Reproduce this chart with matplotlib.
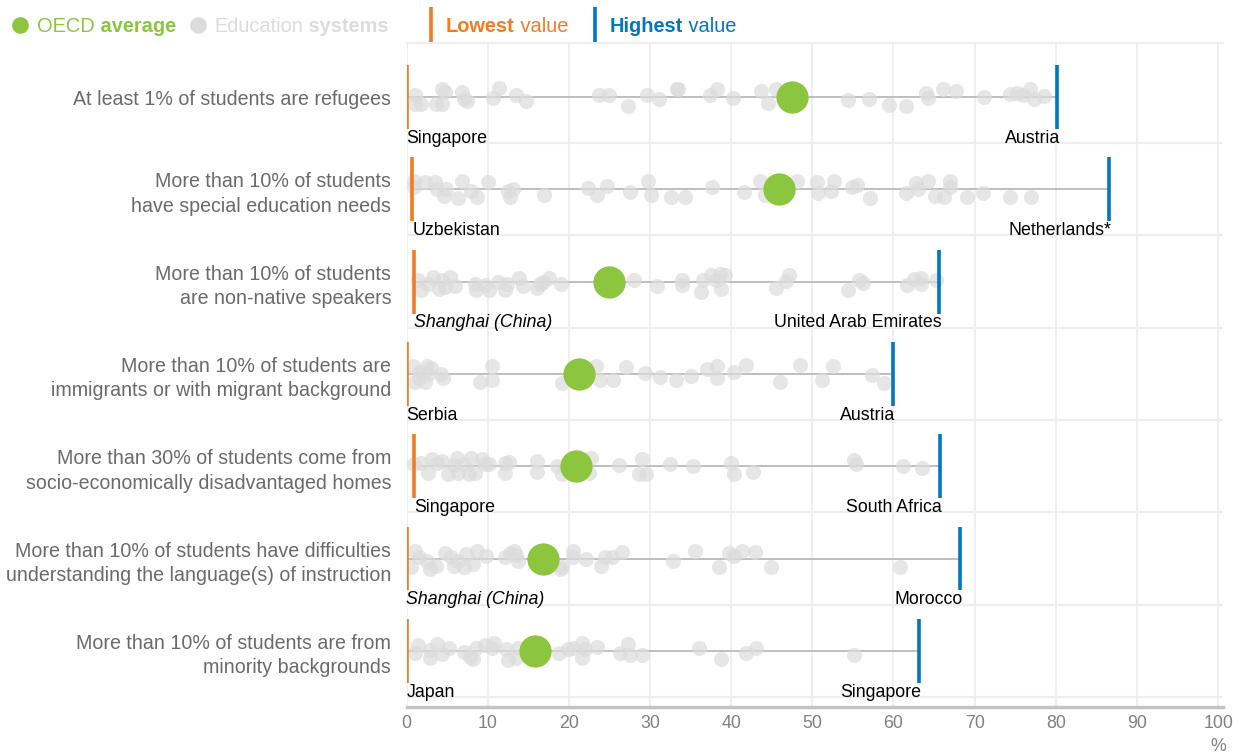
import numpy as np
import matplotlib
matplotlib.use('Agg')
import matplotlib.pyplot as plt
from matplotlib import font_manager

# ---- data ----
categories = [
    'At least 1% of students are refugees',
    'More than 10% of students\nhave special education needs',
    'More than 10% of students\nare non-native speakers',
    'More than 10% of students are\nimmigrants or with migrant background',
    'More than 30% of students come from\nsocio-economically disadvantaged homes',
    'More than 10% of students have difficulties\nunderstanding the language(s) of instruction',
    'More than 10% of students are from\nminority backgrounds',
]
oecd_avg = [47.5, 45.9, 25.0, 21.3, 20.9, 16.8, 15.8]
lowest_val = [0.0, 0.7, 0.9, 0.0, 0.9, 0.0, 0.0]
lowest_name = ['Singapore', 'Uzbekistan', 'Shanghai (China)', 'Serbia',
               'Singapore', 'Shanghai (China)', 'Japan']
highest_val = [80.2, 86.5, 65.6, 59.9, 65.7, 68.2, 63.1]
highest_name = ['Austria', 'Netherlands*', 'United Arab Emirates', 'Austria',
                'South Africa', 'Morocco', 'Singapore']

# education systems (value, vertical jitter in px as drawn in the original)
refugees_x = [1.1, 1.0, 1.8, 4.4, 4.4, 3.6, 4.7, 6.8, 7.1, 7.5, 10.6, 11.4, 13.5, 14.7, 23.7, 25.0, 27.3,
              29.6, 31.1, 33.3, 33.5, 37.4, 38.2, 40.2, 43.7, 44.5, 45.5, 54.4, 57.0, 59.5, 61.6, 64.0,
              64.3, 66.1, 67.7, 71.2, 74.4, 75.2, 76.0, 76.8, 77.3, 78.5]
refugees_j = [-2, 7, 7, -8, 7, 7, -5, -5, 2, 4, 1, -9, -2, 4, -2, -2, 9, -2, 2, -8, -8, -2, -8, 1, -6, 6,
              -8, 3, 2, 8, 9, -4, 1, -8, -6, 0, -3, -4, -2, -8, 2, -1]
sen_x = [0.9, 0.9, 2.3, 3.5, 3.7, 4.9, 4.6, 6.3, 6.8, 8.0, 8.7, 10.0, 12.5, 12.8, 13.1, 16.9, 22.4, 23.5,
         24.7, 27.5, 29.8, 30.1, 32.6, 34.3, 37.6, 41.6, 43.6, 44.2, 48.1, 50.6, 50.7, 52.3, 52.7, 54.9,
         55.5, 57.1, 61.5, 62.8, 63.0, 64.3, 65.1, 66.2, 67.0, 67.0, 69.1, 71.0, 74.3, 76.9]
sen_j = [-2, -8, -7, -7, 0, 0, 7, 9, -8, 2, 8, -7, 2, 8, 0, 6, -1, 6, -3, 3, -8, 6, 8, 8, -2, 3, -8, 6,
         -8, -7, 4, 2, -8, -2, -4, 9, 4, -6, 0, -8, 7, 8, -8, -2, 8, 4, 8, 8]
nonnative_x = [1.4, 1.8, 2.7, 3.3, 4.0, 4.4, 5.3, 4.7, 6.0, 8.4, 8.6, 9.7, 10.2, 11.3, 12.1, 12.4, 13.9,
               14.3, 16.1, 16.5, 17.6, 16.8, 19.0, 28.0, 30.9, 33.9, 33.9, 36.3, 36.5, 37.5, 38.1, 38.6,
               38.7, 39.2, 45.5, 46.8, 47.1, 54.4, 55.7, 56.2, 61.7, 62.5, 63.4, 63.4, 65.2]
nonnative_j = [-2, 8, 2, -5, 7, -2, -5, 5, 4, 2, 8, 3, 8, 0, 8, 2, -4, 4, 6, 2, -4, 0, 2, -2, 4, -2, 3,
               10, -2, -7, -2, -8, 7, -7, 6, -1, -7, 8, -2, 1, 3, -3, -4, 2, -2]
immigrant_x = [0.8, 1.0, 1.7, 2.3, 2.5, 2.7, 4.3, 4.5, 9.1, 10.5, 10.5, 19.2, 23.3, 23.8, 25.4, 27.1,
               29.4, 31.2, 33.2, 35.1, 37.0, 38.2, 38.2, 40.3, 41.8, 46.0, 48.5, 51.2, 52.6, 57.3, 58.8,
               1.5, 3.0]
immigrant_j = [-8, 8, -2, 8, -8, 0, 0, 4, 8, -8, 6, 9, -8, 6, 6, -7, -1, 3, 6, 2, -5, -8, 4, -2, -9, 8,
               -9, 6, -8, 1, 9, 4, -6]
disadv_x = [0.9, 1.8, 2.7, 3.1, 3.8, 4.4, 5.1, 5.8, 6.2, 6.4, 7.1, 7.7, 8.0, 8.4, 9.3, 9.7, 10.2, 12.1,
            12.1, 12.6, 16.1, 16.1, 18.5, 19.2, 22.7, 22.5, 26.2, 29.0, 28.7, 29.5, 32.5, 35.3, 40.0,
            40.3, 42.7, 55.1, 55.4, 61.2, 63.5]
disadv_j = [-2, -3, 7, -7, -3, -5, 8, -1, -8, 7, -2, 8, -8, 7, -7, -2, -2, 7, -3, -4, -5, 6, 0, 8, -8,
            7, -1, -7, 8, 8, -2, 0, -3, 8, 6, -6, -2, 0, 2]
language_x = [0.5, 1.1, 1.6, 2.5, 2.9, 3.6, 4.8, 5.5, 5.9, 6.4, 7.1, 7.3, 8.2, 8.7, 9.8, 12.1, 12.8, 13.2,
              13.7, 13.5, 18.9, 19.2, 20.5, 20.5, 22.1, 24.0, 24.4, 25.3, 26.6, 32.8, 35.6, 38.5, 39.7,
              40.4, 41.3, 42.9, 44.9, 60.8]
language_j = [8, -8, -2, 2, 10, 7, -6, -2, 7, 2, 8, -5, 5, -8, -3, -2, -6, -8, 2, -4, 10, 8, -8, -2, 0,
              7, -2, -2, -7, 2, -8, 8, -6, -3, -8, -7, 8, 8]
minority_x = [1.0, 1.4, 2.9, 2.9, 3.7, 4.4, 5.2, 7.1, 7.8, 8.2, 8.6, 9.7, 10.5, 10.8, 12.2, 12.5, 13.7,
              13.5, 18.8, 19.9, 20.5, 21.6, 21.6, 22.0, 23.5, 26.3, 27.3, 27.5, 29.0, 36.1, 38.8, 41.8,
              43.1, 55.1]
minority_j = [2, -6, -1, 7, -7, 3, -3, 1, 6, 8, -3, -6, -3, -8, -2, 9, -3, 7, 2, -2, -3, -8, 7, -2, -4,
              2, -7, 4, 4, -3, 8, 2, -3, 4]

systems_x = [refugees_x, sen_x, nonnative_x, immigrant_x, disadv_x, language_x, minority_x]
systems_j = [refugees_j, sen_j, nonnative_j, immigrant_j, disadv_j, language_j, minority_j]

# ---- style ----
GREEN = '#8cc63f'
GREY_DOT = '#dcdcdc'
ORANGE = '#f47b20'
BLUE = '#0077c0'
GRID = '#eeeeee'

names = {f.name for f in font_manager.fontManager.ttflist}
if 'Liberation Sans Narrow' in names:
    FONT, k = 'Liberation Sans Narrow', 1.0
else:
    FONT, k = 'Liberation Sans', 0.85  # no narrow face: shrink to keep widths
plt.rcParams['font.family'] = [FONT, 'DejaVu Sans']

W, H = 1240, 754
fig = plt.figure(figsize=(W / 100, H / 100), dpi=100)
ax_l, ax_r, ax_t, ax_b = 406.5, 1223, 43, 707
ax = fig.add_axes([ax_l / W, 1 - ax_b / H, (ax_r - ax_l) / W, (ax_b - ax_t) / H])

row_px = 92.33  # pixel distance between rows
ax.set_xlim(0, 100.6)
ax.set_ylim(6.607, -0.585)

# grid
for v in range(0, 101, 10):
    ax.axvline(v, color=GRID, lw=1.3, zorder=0)
for i in range(7):
    ax.axhline(i + 0.5, color=GRID, lw=1.6, zorder=0)

for i in range(7):
    lo, hi = lowest_val[i], highest_val[i]
    ax.plot([lo, hi], [i, i], color='#b4b4b4', lw=1.2, zorder=1)
    ys = i + np.array(systems_j[i]) / row_px
    ax.scatter(systems_x[i], ys, s=118, color=GREY_DOT, alpha=0.7, linewidths=0, zorder=2)
    ax.scatter([oecd_avg[i]], [i], s=540, color=GREEN, linewidths=0, zorder=4)
    ax.plot([lo, lo], [i - 0.345, i + 0.345], color=ORANGE, lw=2.6, zorder=5,
            solid_capstyle='butt')
    ax.plot([hi, hi], [i - 0.345, i + 0.345], color=BLUE, lw=2.6, zorder=5,
            solid_capstyle='butt')
    style_lo = 'italic' if '(China)' in lowest_name[i] else 'normal'
    ax.text(lo, i + 0.445, lowest_name[i], ha='left', va='center', fontsize=15 * k,
            color='black', style=style_lo)
    ax.text(hi + 0.3, i + 0.445, highest_name[i], ha='right', va='center', fontsize=15 * k,
            color='black')

ax.set_yticks(range(7))
ax.set_yticklabels(categories, fontsize=16.6 * k, color='#6a6a6a', linespacing=1.35)
ax.set_xticks(range(0, 101, 10))
ax.set_xticklabels([str(v) for v in range(0, 101, 10)], fontsize=15 * k, color='#808080')
ax.tick_params(axis='y', length=0, pad=11)
ax.tick_params(axis='x', length=0, pad=6)
for s in ['left', 'right']:
    ax.spines[s].set_visible(False)
ax.spines['top'].set_color(GRID)
ax.spines['top'].set_linewidth(1.3)
ax.spines['bottom'].set_color('#c4c4c4')
ax.spines['bottom'].set_linewidth(2.5)
ax.text(100, -0.06, '%', transform=ax.get_xaxis_transform(), ha='center', va='center',
        fontsize=15 * k, color='#808080')

# ---- legend row ----
renderer = fig.canvas.get_renderer()


def legend_text(x, y, parts, color):
    for s, weight in parts:
        t = fig.text(x / W, 1 - y / H, s, fontsize=17 * k, color=color, fontweight=weight,
                     va='center', ha='left')
        x += t.get_window_extent(renderer).width


fig.lines.append(plt.Line2D([20 / W], [1 - 25 / H], marker='o', ms=12, color=GREEN,
                            mec='none', transform=fig.transFigure, figure=fig))
legend_text(37, 26, [('OECD', 'normal'), (' average', 'bold')], GREEN)
fig.lines.append(plt.Line2D([198 / W], [1 - 25 / H], marker='o', ms=12, color=GREY_DOT,
                            mec='none', transform=fig.transFigure, figure=fig))
legend_text(214, 26, [('Education', 'normal'), (' systems', 'bold')], GREY_DOT)
fig.lines.append(plt.Line2D([431 / W, 431 / W], [1 - 7 / H, 1 - 42 / H], lw=2.6, color=ORANGE,
                            transform=fig.transFigure, figure=fig, solid_capstyle='butt'))
legend_text(446, 26, [('Lowest', 'bold'), (' value', 'normal')], ORANGE)
fig.lines.append(plt.Line2D([595 / W, 595 / W], [1 - 7 / H, 1 - 42 / H], lw=2.6, color=BLUE,
                            transform=fig.transFigure, figure=fig, solid_capstyle='butt'))
legend_text(610, 26, [('Highest', 'bold'), (' value', 'normal')], BLUE)

fig.savefig('out.png', dpi=100)
